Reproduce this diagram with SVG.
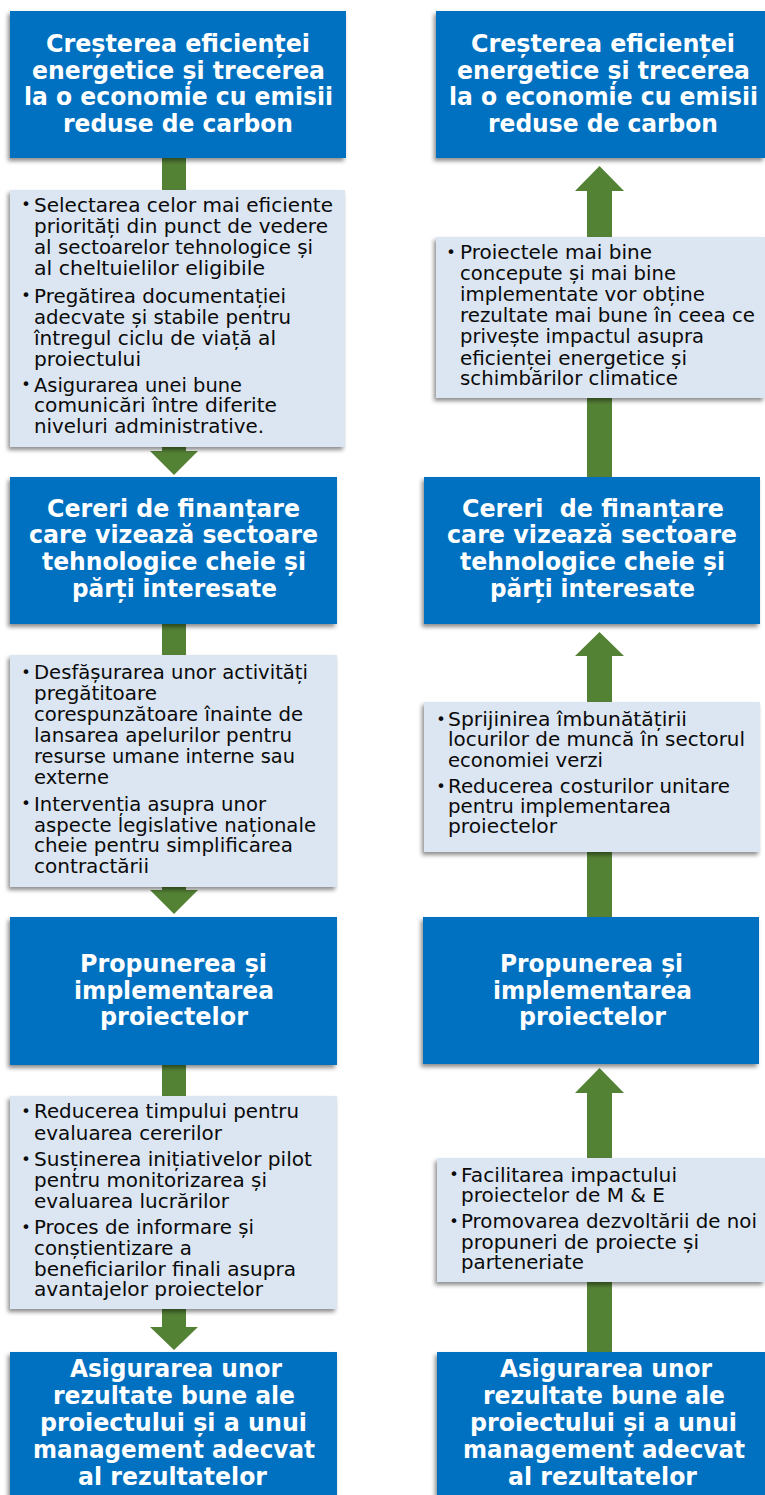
<svg xmlns="http://www.w3.org/2000/svg" width="765" height="1495" viewBox="0 0 765 1495">
<defs>
<filter id="sh" x="-10%" y="-10%" width="120%" height="125%">
<feDropShadow dx="-2" dy="3" stdDeviation="2" flood-color="#000" flood-opacity="0.45"/>
</filter>
<style>
.hd{fill:#0070C0;filter:url(#sh)}
.bx{fill:#DCE6F2;filter:url(#sh)}
.ar{fill:#548235}
.ht{font-family:"DejaVu Sans","Liberation Sans",sans-serif;font-weight:bold;font-size:25px;fill:#fff}
.bt{font-family:"DejaVu Sans","Liberation Sans",sans-serif;font-size:19px;fill:#0a0a0a}
.bl{font-family:"DejaVu Sans","Liberation Sans",sans-serif;font-size:16px;fill:#0a0a0a;text-anchor:middle}
</style>
</defs>
<rect width="765" height="1495" fill="#fff"/>

<g id="connectors">
<path class="ar" d="M162,158 H186 V451 H198 L174,475 L150,451 H162 Z"/>
<path class="ar" d="M162,624 H186 V890 H198 L174,914 L150,890 H162 Z"/>
<path class="ar" d="M162,1065 H186 V1327 H198 L174,1350 L150,1327 H162 Z"/>
<path class="ar" d="M587,477 H612 V191 H624 L599.5,166 L575,191 H587 Z"/>
<path class="ar" d="M587,917 H612 V656 H624 L599.5,632 L575,656 H587 Z"/>
<path class="ar" d="M587,1352 H612 V1093 H624 L599.5,1068 L575,1093 H587 Z"/>
</g>

<g id="L1">
<rect class="hd" x="10" y="11" width="336" height="147"/>
<text class="ht" x="46" y="52" textLength="264" lengthAdjust="spacingAndGlyphs">Creșterea eficienței</text>
<text class="ht" x="32" y="78.5" textLength="293" lengthAdjust="spacingAndGlyphs">energetice și trecerea</text>
<text class="ht" x="24" y="105" textLength="309" lengthAdjust="spacingAndGlyphs">la o economie cu emisii</text>
<text class="ht" x="63" y="131.5" textLength="230" lengthAdjust="spacingAndGlyphs">reduse de carbon</text>
</g>

<g id="LB1">
<rect class="bx" x="10" y="190" width="335" height="257"/>
<text class="bl" x="26" y="210">•</text>
<text class="bt" x="34" y="211.7" textLength="299" lengthAdjust="spacingAndGlyphs">Selectarea celor mai eficiente</text>
<text class="bt" x="34" y="233" textLength="294" lengthAdjust="spacingAndGlyphs">priorități din punct de vedere</text>
<text class="bt" x="34" y="254" textLength="279" lengthAdjust="spacingAndGlyphs">al sectoarelor tehnologice și</text>
<text class="bt" x="34" y="275" textLength="231" lengthAdjust="spacingAndGlyphs">al cheltuielilor eligibile</text>
<text class="bl" x="26" y="301">•</text>
<text class="bt" x="34" y="302.7" textLength="252" lengthAdjust="spacingAndGlyphs">Pregătirea documentației</text>
<text class="bt" x="34" y="324" textLength="257" lengthAdjust="spacingAndGlyphs">adecvate și stabile pentru</text>
<text class="bt" x="34" y="345" textLength="242" lengthAdjust="spacingAndGlyphs">întregul ciclu de viață al</text>
<text class="bt" x="34" y="365.5" textLength="107" lengthAdjust="spacingAndGlyphs">proiectului</text>
<text class="bl" x="26" y="390">•</text>
<text class="bt" x="34" y="391.7" textLength="208" lengthAdjust="spacingAndGlyphs">Asigurarea unei bune</text>
<text class="bt" x="34" y="412.3" textLength="243" lengthAdjust="spacingAndGlyphs">comunicări între diferite</text>
<text class="bt" x="34" y="432.5" textLength="230" lengthAdjust="spacingAndGlyphs">niveluri administrative.</text>
</g>

<g id="L2">
<rect class="hd" x="10" y="477" width="327" height="147"/>
<text class="ht" x="47" y="516.5" textLength="253" lengthAdjust="spacingAndGlyphs">Cereri de finanțare</text>
<text class="ht" x="29" y="543" textLength="289" lengthAdjust="spacingAndGlyphs">care vizează sectoare</text>
<text class="ht" x="42" y="570" textLength="264" lengthAdjust="spacingAndGlyphs">tehnologice cheie și</text>
<text class="ht" x="72" y="597" textLength="205" lengthAdjust="spacingAndGlyphs">părți interesate</text>
</g>

<g id="LB2">
<rect class="bx" x="10" y="655" width="327" height="232"/>
<text class="bl" x="26" y="678">•</text>
<text class="bt" x="34" y="679.3" textLength="274" lengthAdjust="spacingAndGlyphs">Desfășurarea unor activități</text>
<text class="bt" x="34" y="700" textLength="123" lengthAdjust="spacingAndGlyphs">pregătitoare</text>
<text class="bt" x="34" y="720.7" textLength="269" lengthAdjust="spacingAndGlyphs">corespunzătoare înainte de</text>
<text class="bt" x="34" y="742" textLength="258" lengthAdjust="spacingAndGlyphs">lansarea apelurilor pentru</text>
<text class="bt" x="34" y="762.7" textLength="261" lengthAdjust="spacingAndGlyphs">resurse umane interne sau</text>
<text class="bt" x="34" y="784" textLength="75" lengthAdjust="spacingAndGlyphs">externe</text>
<text class="bl" x="26" y="809">•</text>
<text class="bt" x="34" y="810.7" textLength="232" lengthAdjust="spacingAndGlyphs">Intervenția asupra unor</text>
<text class="bt" x="34" y="831.7" textLength="282" lengthAdjust="spacingAndGlyphs">aspecte legislative naționale</text>
<text class="bt" x="34" y="852.3" textLength="259" lengthAdjust="spacingAndGlyphs">cheie pentru simplificarea</text>
<text class="bt" x="34" y="872.7" textLength="115" lengthAdjust="spacingAndGlyphs">contractării</text>
</g>

<g id="L3">
<rect class="hd" x="10" y="917" width="327" height="148"/>
<text class="ht" x="80" y="972" textLength="187" lengthAdjust="spacingAndGlyphs">Propunerea și</text>
<text class="ht" x="74" y="998.5" textLength="200" lengthAdjust="spacingAndGlyphs">implementarea</text>
<text class="ht" x="100" y="1025" textLength="148" lengthAdjust="spacingAndGlyphs">proiectelor</text>
</g>

<g id="LB3">
<rect class="bx" x="10" y="1096" width="327" height="213"/>
<text class="bl" x="26" y="1117">•</text>
<text class="bt" x="34" y="1118.3" textLength="265" lengthAdjust="spacingAndGlyphs">Reducerea timpului pentru</text>
<text class="bt" x="34" y="1139.5" textLength="188" lengthAdjust="spacingAndGlyphs">evaluarea cererilor</text>
<text class="bl" x="26" y="1164.5">•</text>
<text class="bt" x="34" y="1166" textLength="278" lengthAdjust="spacingAndGlyphs">Susținerea inițiativelor pilot</text>
<text class="bt" x="34" y="1186.7" textLength="233" lengthAdjust="spacingAndGlyphs">pentru monitorizarea și</text>
<text class="bt" x="34" y="1207.7" textLength="195" lengthAdjust="spacingAndGlyphs">evaluarea lucrărilor</text>
<text class="bl" x="26" y="1232.5">•</text>
<text class="bt" x="34" y="1234" textLength="220" lengthAdjust="spacingAndGlyphs">Proces de informare și</text>
<text class="bt" x="34" y="1255" textLength="158" lengthAdjust="spacingAndGlyphs">conștientizare a</text>
<text class="bt" x="34" y="1275.7" textLength="262" lengthAdjust="spacingAndGlyphs">beneficiarilor finali asupra</text>
<text class="bt" x="34" y="1296" textLength="229" lengthAdjust="spacingAndGlyphs">avantajelor proiectelor</text>
</g>

<g id="L4">
<rect class="hd" x="10" y="1352" width="327" height="150"/>
<text class="ht" x="70" y="1377" textLength="212" lengthAdjust="spacingAndGlyphs">Asigurarea unor</text>
<text class="ht" x="53" y="1404" textLength="242" lengthAdjust="spacingAndGlyphs">rezultate bune ale</text>
<text class="ht" x="40" y="1431" textLength="267" lengthAdjust="spacingAndGlyphs">proiectului și a unui</text>
<text class="ht" x="33" y="1457.5" textLength="282" lengthAdjust="spacingAndGlyphs">management adecvat</text>
<text class="ht" x="78" y="1485" textLength="189" lengthAdjust="spacingAndGlyphs">al rezultatelor</text>
</g>

<g id="R1">
<rect class="hd" x="436" y="11" width="329" height="147"/>
<text class="ht" x="471" y="52" textLength="264" lengthAdjust="spacingAndGlyphs">Creșterea eficienței</text>
<text class="ht" x="457" y="78.5" textLength="293" lengthAdjust="spacingAndGlyphs">energetice și trecerea</text>
<text class="ht" x="449" y="105" textLength="309" lengthAdjust="spacingAndGlyphs">la o economie cu emisii</text>
<text class="ht" x="488" y="131.5" textLength="230" lengthAdjust="spacingAndGlyphs">reduse de carbon</text>
</g>

<g id="RB1">
<rect class="bx" x="436" y="237" width="329" height="161"/>
<text class="bl" x="451" y="258">•</text>
<text class="bt" x="460" y="259.3" textLength="192" lengthAdjust="spacingAndGlyphs">Proiectele mai bine</text>
<text class="bt" x="460" y="280" textLength="216" lengthAdjust="spacingAndGlyphs">concepute și mai bine</text>
<text class="bt" x="460" y="300.7" textLength="245" lengthAdjust="spacingAndGlyphs">implementate vor obține</text>
<text class="bt" x="460" y="322.3" textLength="295" lengthAdjust="spacingAndGlyphs">rezultate mai bune în ceea ce</text>
<text class="bt" x="460" y="343.3" textLength="244" lengthAdjust="spacingAndGlyphs">privește impactul asupra</text>
<text class="bt" x="460" y="364.5" textLength="227" lengthAdjust="spacingAndGlyphs">eficienței energetice și</text>
<text class="bt" x="460" y="385" textLength="218" lengthAdjust="spacingAndGlyphs">schimbărilor climatice</text>
</g>

<g id="R2">
<rect class="hd" x="424" y="477" width="336" height="147"/>
<text class="ht" x="462" y="516.5" textLength="262" lengthAdjust="spacingAndGlyphs" style="white-space:pre">Cereri  de finanțare</text>
<text class="ht" x="447" y="543" textLength="290" lengthAdjust="spacingAndGlyphs">care vizează sectoare</text>
<text class="ht" x="460" y="570" textLength="265" lengthAdjust="spacingAndGlyphs">tehnologice cheie și</text>
<text class="ht" x="490" y="597" textLength="205" lengthAdjust="spacingAndGlyphs">părți interesate</text>
</g>

<g id="RB2">
<rect class="bx" x="424" y="702" width="336" height="150"/>
<text class="bl" x="441" y="724.5">•</text>
<text class="bt" x="448" y="726" textLength="239" lengthAdjust="spacingAndGlyphs">Sprijinirea îmbunătățirii</text>
<text class="bt" x="448" y="746" textLength="297" lengthAdjust="spacingAndGlyphs">locurilor de muncă în sectorul</text>
<text class="bt" x="448" y="766.7" textLength="155" lengthAdjust="spacingAndGlyphs">economiei verzi</text>
<text class="bl" x="441" y="792">•</text>
<text class="bt" x="448" y="793.3" textLength="282" lengthAdjust="spacingAndGlyphs">Reducerea costurilor unitare</text>
<text class="bt" x="448" y="813.3" textLength="223" lengthAdjust="spacingAndGlyphs">pentru implementarea</text>
<text class="bt" x="448" y="833.3" textLength="109" lengthAdjust="spacingAndGlyphs">proiectelor</text>
</g>

<g id="R3">
<rect class="hd" x="423" y="917" width="336" height="147"/>
<text class="ht" x="500" y="972" textLength="183" lengthAdjust="spacingAndGlyphs">Propunerea și</text>
<text class="ht" x="493" y="998.5" textLength="199" lengthAdjust="spacingAndGlyphs">implementarea</text>
<text class="ht" x="519" y="1025" textLength="147" lengthAdjust="spacingAndGlyphs">proiectelor</text>
</g>

<g id="RB3">
<rect class="bx" x="437" y="1158" width="328" height="124"/>
<text class="bl" x="454" y="1180">•</text>
<text class="bt" x="461" y="1181.7" textLength="216" lengthAdjust="spacingAndGlyphs">Facilitarea impactului</text>
<text class="bt" x="461" y="1201.7" textLength="204" lengthAdjust="spacingAndGlyphs">proiectelor de M &amp; E</text>
<text class="bl" x="454" y="1227">•</text>
<text class="bt" x="461" y="1228.3" textLength="296" lengthAdjust="spacingAndGlyphs">Promovarea dezvoltării de noi</text>
<text class="bt" x="461" y="1249.3" textLength="238" lengthAdjust="spacingAndGlyphs">propuneri de proiecte și</text>
<text class="bt" x="461" y="1269.3" textLength="123" lengthAdjust="spacingAndGlyphs">parteneriate</text>
</g>

<g id="R4">
<rect class="hd" x="437" y="1352" width="328" height="143"/>
<text class="ht" x="500" y="1377" textLength="212" lengthAdjust="spacingAndGlyphs">Asigurarea unor</text>
<text class="ht" x="483" y="1404" textLength="242" lengthAdjust="spacingAndGlyphs">rezultate bune ale</text>
<text class="ht" x="470" y="1431" textLength="267" lengthAdjust="spacingAndGlyphs">proiectului și a unui</text>
<text class="ht" x="463" y="1457.5" textLength="282" lengthAdjust="spacingAndGlyphs">management adecvat</text>
<text class="ht" x="508" y="1485" textLength="189" lengthAdjust="spacingAndGlyphs">al rezultatelor</text>
</g>
</svg>
